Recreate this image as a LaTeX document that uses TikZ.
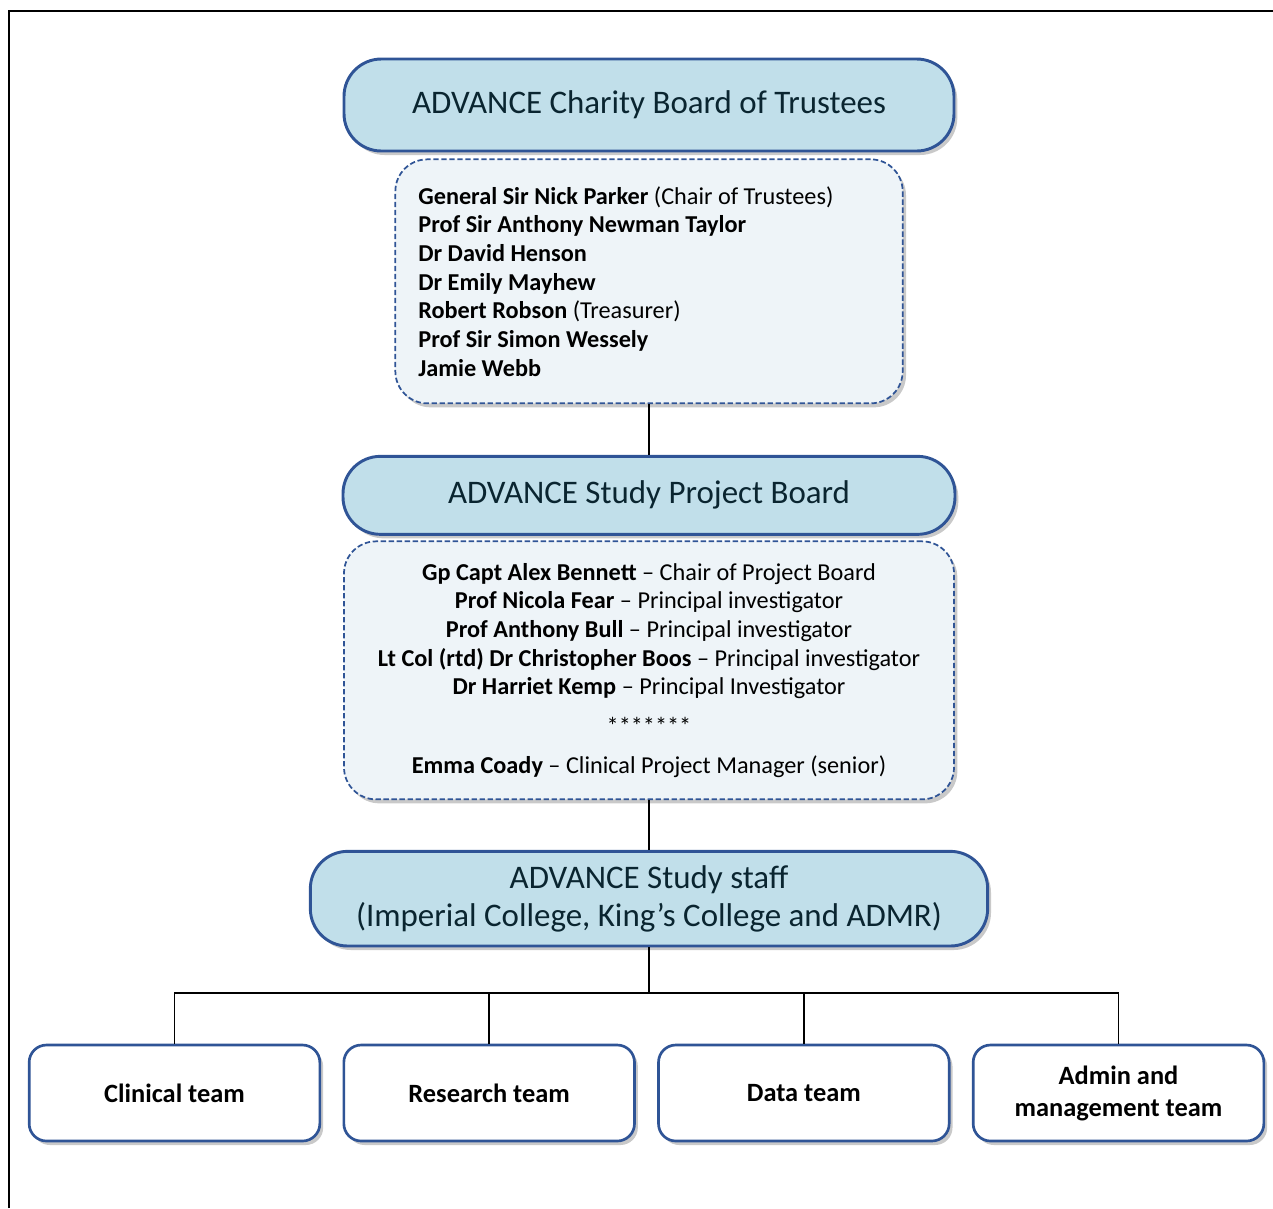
\documentclass[tikz,border=0pt]{standalone}
\usepackage{fontspec}
\setmainfont{Carlito}
\usetikzlibrary{positioning,shadows,calc}

\definecolor{edgeblue}{HTML}{2F5496}
\definecolor{headfill}{HTML}{C1DFEA}
\definecolor{listfill}{HTML}{EEF4F8}
\definecolor{headtext}{HTML}{0A2530}

\tikzset{
  softshadow/.style={drop shadow={shadow xshift=2.5pt,shadow yshift=-3pt,opacity=0.3,fill=black!70}},
  header/.style={rectangle,rounded corners=28pt,draw=edgeblue,line width=2.2pt,fill=headfill,text=headtext,
    align=center,inner sep=0pt,font=\fontsize{24.7}{28.5}\selectfont,softshadow},
  members/.style={rectangle,rounded corners=24pt,draw=edgeblue,line width=1.3pt,dash pattern=on 4pt off 2pt,
    fill=listfill,font=\fontsize{18.2}{21.5}\selectfont,softshadow},
  team/.style={rectangle,rounded corners=13pt,draw=edgeblue,line width=2pt,fill=white,minimum width=218pt,
    minimum height=72pt,align=center,font=\bfseries\fontsize{19.8}{24}\selectfont,softshadow}
}

\begin{document}
\begin{tikzpicture}[x=0.75pt,y=-0.75pt,line width=1.3pt]
\useasboundingbox (0,0) rectangle (1273,1208);
\draw[line width=1.6pt] (9,1208) -- (9,11) -- (1273,11);

\node[header, minimum width=457.5pt, minimum height=69pt] (trustees) at (649,105) {ADVANCE Charity Board of Trustees};
\node[members, minimum width=380pt, minimum height=183pt, text width=346pt, inner xsep=17.25pt, align=flush left] (trusteelist) [below=4.5pt of trustees] {%
\textbf{General Sir Nick Parker} (Chair of Trustees)\\
\textbf{Prof Sir Anthony Newman Taylor}\\
\textbf{Dr David Henson}\\
\textbf{Dr Emily Mayhew}\\
\textbf{Robert Robson} (Treasurer)\\
\textbf{Prof Sir Simon Wessely}\\
\textbf{Jamie Webb}};
\node[header, minimum width=459pt, minimum height=58.5pt] (projboard) [below=38pt of trusteelist] {ADVANCE Study Project Board};
\node[members, minimum width=457.5pt, minimum height=193.5pt, align=center] (boardlist) [below=3.5pt of projboard] {%
\textbf{Gp Capt Alex Bennett} -- Chair of Project Board\\
\textbf{Prof Nicola Fear} -- Principal investigator\\
\textbf{Prof Anthony Bull} -- Principal investigator\\
\textbf{Lt Col (rtd) Dr Christopher Boos} -- Principal investigator\\
\textbf{Dr Harriet Kemp} -- Principal Investigator\\[8pt]
*******\\[8pt]
\textbf{Emma Coady} -- Clinical Project Manager (senior)};
\node[header, minimum width=508pt, minimum height=71pt] (staff) [below=37.25pt of boardlist] {ADVANCE Study staff\\(Imperial College, King’s College and ADMR)};

\node[team] (clinical) at (174.5,1093) {Clinical team};
\node[team] (research) [right=16pt of clinical] {Research team};
\node[team] (data) [right=16pt of research] {Data team};
\node[team] (admin) [right=16pt of data] {Admin and\\management team};

\coordinate (bus) at ($(staff.south)+(0,-34pt)$);

\draw (trusteelist) -- (projboard);
\draw (boardlist) -- (staff);
\draw (staff) -- (bus);
\foreach \t in {clinical,research,data,admin}
  \draw (bus) -| (\t.north);
\end{tikzpicture}
\end{document}
